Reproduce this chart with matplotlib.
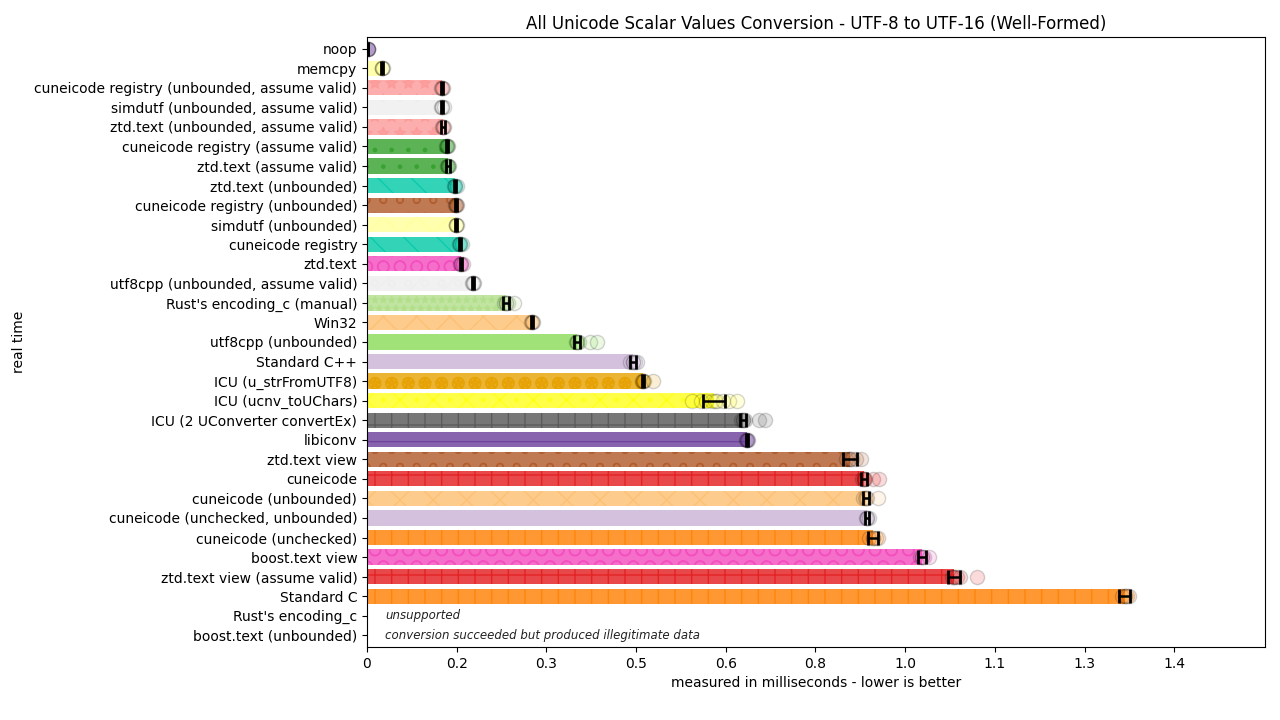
import numpy as np
import matplotlib
matplotlib.use('Agg')
import matplotlib.pyplot as plt

# benchmark names, top to bottom
names = [
    "noop", "memcpy",
    "cuneicode registry (unbounded, assume valid)",
    "simdutf (unbounded, assume valid)",
    "ztd.text (unbounded, assume valid)",
    "cuneicode registry (assume valid)",
    "ztd.text (assume valid)",
    "ztd.text (unbounded)",
    "cuneicode registry (unbounded)",
    "simdutf (unbounded)",
    "cuneicode registry",
    "ztd.text",
    "utf8cpp (unbounded, assume valid)",
    "Rust's encoding_c (manual)",
    "Win32",
    "utf8cpp (unbounded)",
    "Standard C++",
    "ICU (u_strFromUTF8)",
    "ICU (ucnv_toUChars)",
    "ICU (2 UConverter convertEx)",
    "libiconv",
    "ztd.text view",
    "cuneicode",
    "cuneicode (unbounded)",
    "cuneicode (unchecked, unbounded)",
    "cuneicode (unchecked)",
    "boost.text view",
    "ztd.text view (assume valid)",
    "Standard C",
    "Rust's encoding_c",
    "boost.text (unbounded)",
]

# mean time in milliseconds (None = no bar)
means = [0.0018, 0.0268, 0.1338, 0.1338, 0.1356, 0.1427, 0.1445, 0.157,
         0.1588, 0.159, 0.166, 0.1677, 0.189, 0.248, 0.294, 0.375, 0.4745,
         0.4923, 0.619, 0.671, 0.678, 0.8616, 0.8866, 0.890, 0.892, 0.9026,
         0.990, 1.047, 1.352, None, None]

errors = [0.0005, 0.002, 0.002, 0.002, 0.004, 0.002, 0.003, 0.002, 0.002,
          0.002, 0.002, 0.002, 0.002, 0.006, 0.002, 0.005, 0.006, 0.002,
          0.02, 0.006, 0.002, 0.012, 0.005, 0.005, 0.003, 0.009, 0.007,
          0.011, 0.01, None, None]

# individual iteration times (ms)
samples = [
    [0.0018, 0.0018, 0.002, 0.002],
    [0.026, 0.027, 0.027, 0.028],
    [0.132, 0.134, 0.134, 0.136],
    [0.132, 0.134, 0.134, 0.137],
    [0.133, 0.136, 0.136, 0.138],
    [0.141, 0.143, 0.143, 0.145],
    [0.143, 0.145, 0.145, 0.147],
    [0.156, 0.157, 0.157, 0.16],
    [0.157, 0.159, 0.159, 0.161],
    [0.158, 0.159, 0.159, 0.161],
    [0.164, 0.166, 0.166, 0.169],
    [0.166, 0.168, 0.168, 0.171],
    [0.188, 0.189, 0.189, 0.191],
    [0.244, 0.248, 0.248, 0.252, 0.262],
    [0.292, 0.294, 0.294, 0.297],
    [0.372, 0.375, 0.375, 0.378, 0.398, 0.41],
    [0.470, 0.474, 0.474, 0.478, 0.481],
    [0.490, 0.492, 0.492, 0.494, 0.51],
    [0.58, 0.595, 0.605, 0.615, 0.62, 0.625, 0.635, 0.645, 0.66],
    [0.668, 0.671, 0.671, 0.674, 0.70, 0.71],
    [0.677, 0.678, 0.678, 0.68],
    [0.855, 0.86, 0.862, 0.866, 0.872, 0.882],
    [0.883, 0.886, 0.886, 0.889, 0.902, 0.913],
    [0.884, 0.889, 0.890, 0.892, 0.911],
    [0.89, 0.892, 0.892, 0.895],
    [0.896, 0.902, 0.902, 0.908, 0.912],
    [0.987, 0.99, 0.99, 0.994, 1.002],
    [1.043, 1.047, 1.047, 1.053, 1.058, 1.088],
    [1.347, 1.352, 1.352, 1.356, 1.36],
    [],
    [],
]

colors = ["#6a3d9a", "#ffff99", "#fb9a99", "#eeeeee", "#fb9a99", "#33a02c",
          "#33a02c", "#00c9a7", "#b15928", "#ffff99", "#00c9a7", "#f34bbd",
          "#eeeeee", "#b2df8a", "#fdbf6f", "#88da56", "#cab2d6", "#e6a100",
          "#ffff1a", "#555555", "#6a3d9a", "#b15928", "#e31a1c", "#fdbf6f",
          "#cab2d6", "#ff7f00", "#f34bbd", "#e31a1c", "#ff7f00", "#ffffff",
          "#ffffff"]

hatches = ["", "", "*", ".", "*", ".", ".", "\\", "o", "x", "\\", "O", "/o",
           "**", "x", "", "", "*O", "x.", "+", "-", "o", "+", "x", "", "|",
           "O", "+", "|", "", ""]

notes = {29: "unsupported",
         30: "conversion succeeded but produced illegitimate data"}

xtick_vals = [0, 0.16, 0.32, 0.48, 0.64, 0.8, 0.96, 1.12, 1.28, 1.44]
xtick_labels = ["0", "0.2", "0.3", "0.5", "0.6", "0.8", "1.0", "1.1", "1.3", "1.4"]

fig = plt.figure(figsize=(12.8, 7.2), dpi=100)
ax = fig.add_axes([0.2867, 0.1014, 0.7016, 0.8472])

y = np.arange(len(names))
for i in range(len(names)):
    if means[i] is None:
        ax.text(0.032, i, notes[i], fontsize=8.5, style='italic',
                va='center', ha='left', color='#222222')
        continue
    ax.barh(i, means[i], height=0.78, color=colors[i], alpha=0.8,
            edgecolor=colors[i], linewidth=0, hatch=hatches[i])
    ax.scatter(samples[i], [i] * len(samples[i]), s=105, c=colors[i],
               edgecolors='black', linewidths=1.0, alpha=0.16, zorder=3)
    ax.errorbar(means[i], i, xerr=errors[i], color='black', lw=1.8,
                capsize=5, capthick=2, zorder=4)

ax.set_yticks(y)
ax.set_yticklabels(names)
ax.set_ylim(30.6, -0.6)
ax.set_xlim(0, 1.602)
ax.set_xticks(xtick_vals)
ax.set_xticklabels(xtick_labels)
ax.set_xlabel("measured in milliseconds - lower is better")
ax.set_ylabel("real time")
ax.yaxis.set_label_coords(-0.38, 0.5)
ax.set_title("All Unicode Scalar Values Conversion - UTF-8 to UTF-16 (Well-Formed)", fontsize=12)

fig.savefig("out.png", dpi=100)
